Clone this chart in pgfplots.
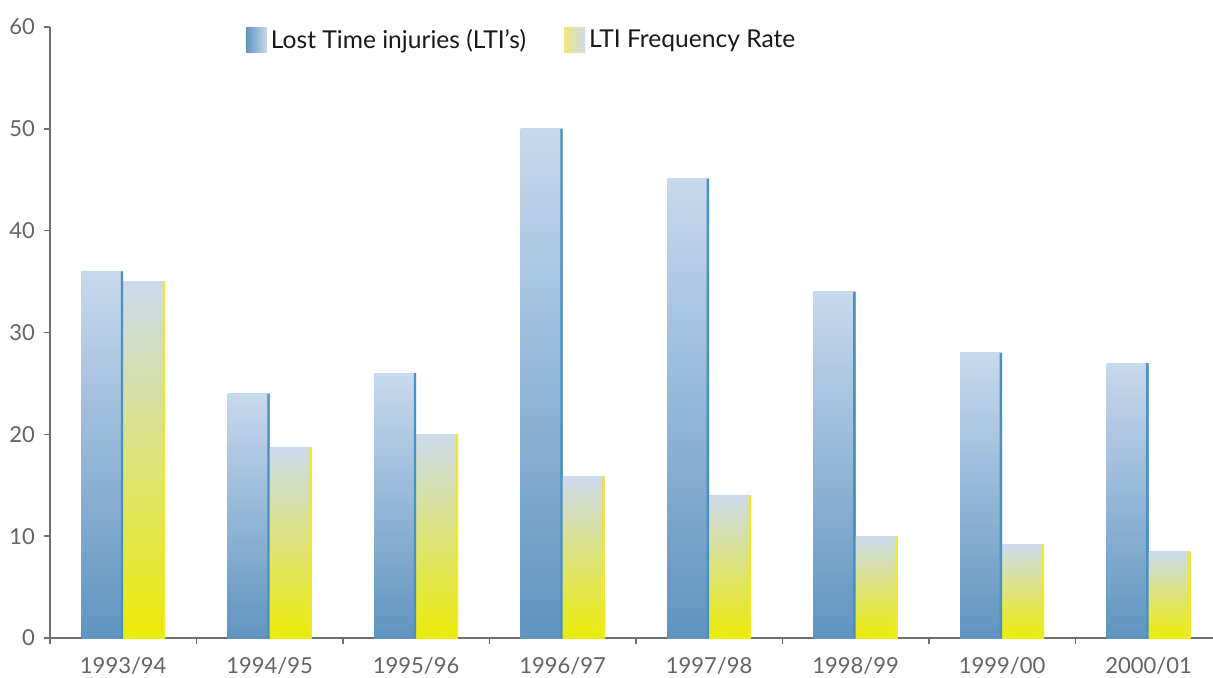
\documentclass[border=0pt]{standalone}
\usepackage{pgfplots}
\pgfplotsset{compat=1.18}
\usepackage{fontspec}
\setmainfont{Lato}
\definecolor{blueDark}{RGB}{95,148,192}
\definecolor{blueMid}{RGB}{148,181,214}
\definecolor{blueLight}{RGB}{200,217,237}
\definecolor{blueEdge}{RGB}{74,144,192}
\definecolor{yelDark}{RGB}{236,236,8}
\definecolor{yelMid}{RGB}{222,227,170}
\definecolor{yelLight}{RGB}{205,218,236}
\definecolor{yelEdge}{RGB}{240,232,40}
\definecolor{yelSwatch}{RGB}{240,230,125}
\definecolor{axisGray}{RGB}{112,112,112}
\definecolor{labelGray}{RGB}{100,100,100}

% one bar per \addplot so that every bar gets its own gradient
\pgfplotsset{
  ltibar/.style={forget plot, draw=none, shade, bottom color=blueDark,
    middle color=blueMid, top color=blueLight, bar shift=-10.5pt},
  ratebar/.style={forget plot, draw=none, shade, bottom color=yelDark,
    middle color=yelMid, top color=yelLight, bar shift=10.5pt},
}

\begin{document}
\begin{tikzpicture}
\useasboundingbox (-25pt,-19.5pt) rectangle (581.5pt,319pt);
\begin{axis}[
    scale only axis,
    width=581.5pt, height=305.5pt,
    ybar=0pt,
    bar width=21pt,
    xmin=-0.5, xmax=7.44,
    ymin=0, ymax=60,
    xtick={0,...,7},
    xticklabels={1993/94,1994/95,1995/96,1996/97,1997/98,1998/99,1999/00,2000/01},
    minor xtick={-0.5,0.5,...,7.5},
    ytick={0,10,...,60},
    axis x line=bottom, axis y line=left,
    axis line style={-, draw=axisGray, line width=0.75pt},
    tick style={draw=axisGray, line width=0.75pt},
    tick align=outside,
    major x tick style={draw=none},
    minor tick length=3pt,
    major tick length=3pt,
    /pgf/number format/assume math mode=true,
    tick label style={font=\fontsize{11}{13}\selectfont, text=labelGray},
    xticklabel style={yshift=-3pt},
    yticklabel style={xshift=-1pt},
    legend columns=2,
    legend style={draw=none, fill=none, at={(0.163,1.01)}, anchor=north west,
        font=\fontsize{12.3}{14}\selectfont, text=black!90,
        /tikz/every even column/.append style={column sep=17pt}},
    legend cell align=left,
]
\addlegendimage{legend image code/.code={\path[draw=none, left color=blueDark, right color=blueLight] (0pt,-6.25pt) rectangle (10.5pt,6.25pt);}}
\addlegendentry{Lost Time injuries (LTI's)}
\addlegendimage{legend image code/.code={\path[draw=none, left color=yelSwatch, right color=yelLight] (0pt,-6.25pt) rectangle (10.5pt,6.25pt);}}
\addlegendentry{LTI Frequency Rate}

% Lost Time injuries
\addplot[ltibar] coordinates {(0,36)};
\addplot[ltibar] coordinates {(1,24)};
\addplot[ltibar] coordinates {(2,26)};
\addplot[ltibar] coordinates {(3,50)};
\addplot[ltibar] coordinates {(4,45.1)};
\addplot[ltibar] coordinates {(5,34)};
\addplot[ltibar] coordinates {(6,28)};
\addplot[ltibar] coordinates {(7,27)};
% LTI frequency rate
\addplot[ratebar] coordinates {(0,35)};
\addplot[ratebar] coordinates {(1,18.7)};
\addplot[ratebar] coordinates {(2,20)};
\addplot[ratebar] coordinates {(3,15.9)};
\addplot[ratebar] coordinates {(4,14)};
\addplot[ratebar] coordinates {(5,10)};
\addplot[ratebar] coordinates {(6,9.2)};
\addplot[ratebar] coordinates {(7,8.5)};
% thin edges on the right of each bar
\addplot[forget plot, draw=none, fill=blueEdge, bar width=1.2pt, bar shift=-0.6pt]
    coordinates {(0,36) (1,24) (2,26) (3,50) (4,45.1) (5,34) (6,28) (7,27)};
\addplot[forget plot, draw=none, fill=yelEdge, bar width=1.2pt, bar shift=20.4pt]
    coordinates {(0,35) (1,18.7) (2,20) (3,15.9) (4,14) (5,10) (6,9.2) (7,8.5)};
\end{axis}
\end{tikzpicture}
\end{document}
